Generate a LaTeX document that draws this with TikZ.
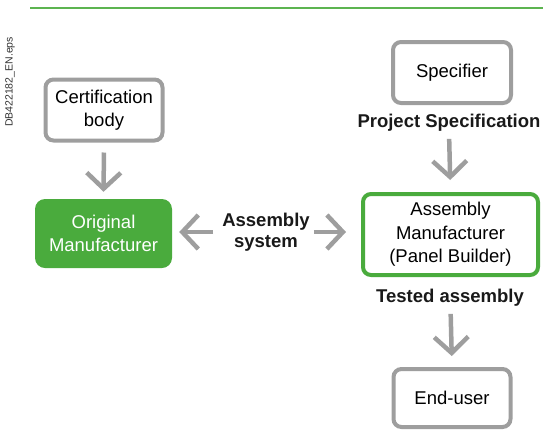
\documentclass[tikz,border=0pt]{standalone}
\usepackage{fontspec}
\setmainfont{Liberation Sans}
\usetikzlibrary{arrows.meta,positioning}

\definecolor{schgreen}{RGB}{74,171,61}
\definecolor{schgray}{RGB}{158,158,158}

\tikzset{
    greybox/.style={draw=schgray, line width=4pt, rounded corners=8pt, fill=white,
        align=center, inner sep=0pt, font=\fontsize{18.5}{23.5}\selectfont},
    greenbox/.style={greybox, draw=schgreen},
    solidbox/.style={fill=schgreen, text=white, rounded corners=10pt,
        align=center, inner sep=0pt, font=\fontsize{18.5}{23}\selectfont},
    flowlabel/.style={align=center, inner sep=0pt, text=black!90, font=\bfseries\fontsize{18.5}{20.5}\selectfont},
    flow/.style={draw=schgray, line width=4.5pt,
        -{Straight Barb[length=16pt, width=34pt]}}
}

\begin{document}
\begin{tikzpicture}[x=1pt, y=-1pt]
    \useasboundingbox (0,0) rectangle (543,432);

    % Header rule and file tag
    \draw[schgreen!90!white, line width=1.2pt] (30,8) -- (543,8);
    \node[rotate=90, inner sep=0pt, font=\fontsize{10.5}{12}\selectfont, text=black!80] (tag) at (10,82) {DB422182\_EN.eps};

    % Boxes
    \node[greybox, minimum width=117pt, minimum height=61pt] (cert) at (104,110) {Certification\\body};
    \node[solidbox, minimum width=137pt, minimum height=69pt] (orig) at (103.5,233.5) {Original\\Manufacturer};
    \node[greybox, minimum width=118pt, minimum height=61pt] (spec) at (452,72.5) {Specifier};
    \node[greenbox, minimum width=175pt, minimum height=81pt] (asm) at (450.5,234.5) {Assembly\\Manufacturer\\(Panel Builder)};
    \node[greybox, minimum width=117pt, minimum height=58pt] (user) at (452,398) {End-user};

    % Labels
    \node[flowlabel] (proj) at (449,123) {Project Specification};
    \node[flowlabel] (sys) at (266,232) {Assembly\\system};
    \node[flowlabel] (tested) at (450,298) {Tested assembly};

    % Flows
    \draw[flow, shorten <=10pt, shorten >=7pt] (cert.south) -- (orig.north);
    \draw[flow, shorten <=7pt, shorten >=12pt] (proj.south) -- (asm.north);
    \draw[flow, shorten <=7pt, shorten >=11pt] (tested.south -| asm.south) -- (user.north);
    \draw[flow, shorten <=9pt, shorten >=7pt] (sys.west) -- (sys.west -| orig.east);
    \draw[flow, shorten <=4pt, shorten >=15pt] (sys.east) -- (sys.east -| asm.west);
\end{tikzpicture}
\end{document}
